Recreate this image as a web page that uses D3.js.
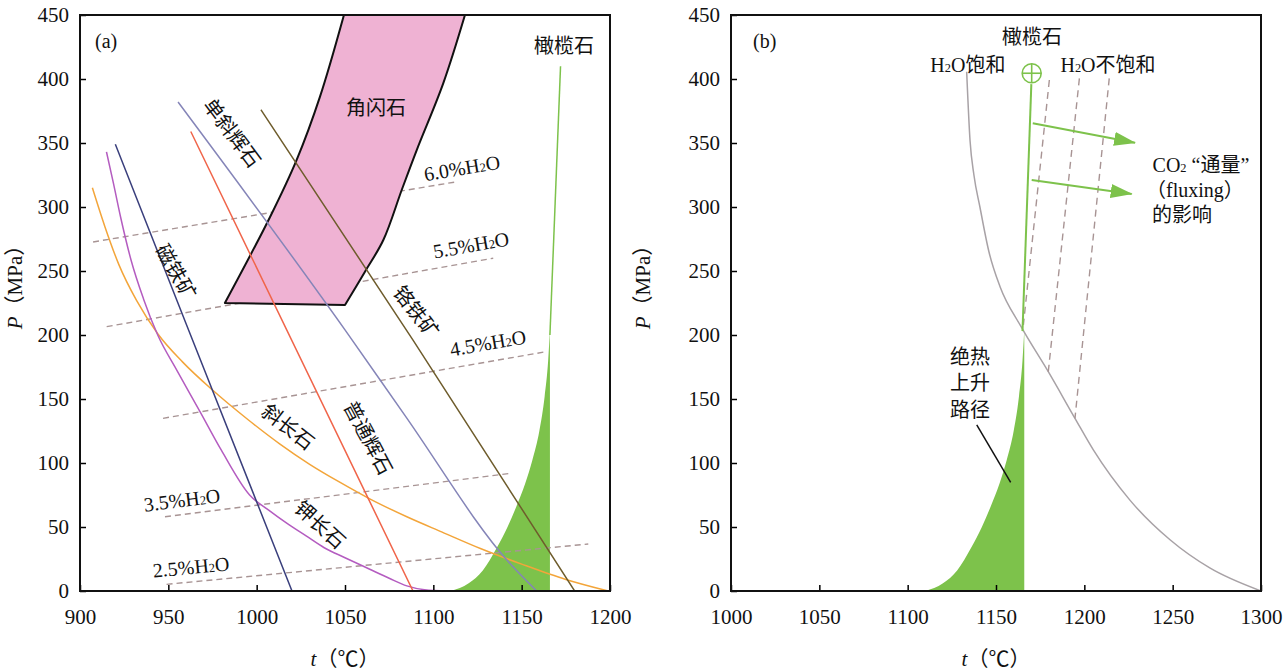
<!DOCTYPE html>
<html>
<head>
<meta charset="utf-8">
<script src="https://cdn.jsdelivr.net/npm/d3@7"></script>
<style>
  body { margin: 0; background: #fff; }
  text { font-family: 'Liberation Serif', 'Noto Sans CJK SC', serif; fill: #111; }
</style>
</head>
<body>
<script>
// tick labels
const pressureTicks = [0, 50, 100, 150, 200, 250, 300, 350, 400, 450];
const tempTicksA = [900, 950, 1000, 1050, 1100, 1150, 1200];
const tempTicksB = [1000, 1050, 1100, 1150, 1200, 1250, 1300];

// panel (a): mineral-in curves as [t (°C), P (MPa)]
const plagioclase = [[907, 315], [914, 285], [922, 255], [932, 227], [944, 201], [958, 179], [975, 157],
  [995, 134], [1013, 115], [1030, 99], [1047, 85], [1064, 72], [1085, 58], [1105, 46], [1127, 33],
  [1150, 21], [1175, 9], [1199, 0]];
const kFeldspar = [[915, 343], [919, 318], [923, 292], [929, 258], [936, 228], [944, 200], [955, 172],
  [968, 140], [980, 110], [996, 75], [1007, 63], [1017, 53], [1028, 43], [1038, 34], [1050, 26],
  [1064, 17], [1075, 10], [1085, 4], [1095, 1], [1108, 0]];
const magnetite = [[920, 349], [960, 209], [1020, 0]];
const augite = [[962.7, 359], [1063.6, 71], [1088.5, 0]];
const clinopyroxene = [[955.5, 382], [1050, 204], [1084, 137], [1143, 22], [1158.5, 0]];
const chromite = [[1002.4, 376], [1088.5, 196], [1180, 0]];
const hornblendeLeft = [[982, 225], [1007.5, 292], [1022.7, 337], [1035.8, 386], [1049.4, 450]];
const hornblendeRight = [[1050, 223.4], [1061.3, 249.5], [1071.7, 274.2], [1082.1, 313.3],
  [1090.6, 344.5], [1105.6, 396.6], [1117.9, 450]];
const olivineLineA = [[1166, 200], [1172, 410]];
// olivine adiabatic ascent field (left edge), shared by both panels
const olivineFill = [[1110, 0], [1120, 6], [1128, 16], [1136, 34], [1142, 50], [1147, 66], [1152, 84],
  [1156, 102], [1160, 125], [1163, 152], [1165, 180], [1166, 204]];

// water isopleths
const waterLevels = ['6.0', '5.5', '4.5', '3.5', '2.5'];
const waterLines = [
  [[907.4, 272.7], [1112.3, 319.5]],
  [[915.1, 206.5], [1133.9, 260]],
  [[947, 134.9], [1164, 187]],
  [[948.1, 58], [1144.3, 92]],
  [[949, 5.2], [1187.7, 36.7]]
];

// panel (b)
const h2oSaturated = [[1133.4, 405.7], [1135.3, 352], [1137.5, 325], [1140.9, 300], [1146, 265],
  [1152.3, 237.7], [1164.2, 206.5], [1179.6, 171.3], [1194.7, 134.9], [1205.1, 110.2], [1225.8, 71],
  [1248.5, 40], [1271, 18], [1300, 0]];
const h2oUndersaturated = [
  [[1180.2, 399.2], [1165.5, 207.8]],
  [[1197.2, 400.5], [1179.6, 171.3]],
  [[1214.1, 400.5], [1194.7, 134.9]]
];
const olivineLineB = [[1165, 203], [1170, 396]];
const olivineStart = [1170.2, 404.5];
const co2Arrows = [
  [[1170.8, 365.4], [1228.7, 350.2]],
  [[1170.2, 321.1], [1226.8, 310.2]]
];

const width = 1285;
const height = 672;
const svg = d3.select('body').append('svg').attr('width', width).attr('height', height);

const green = '#7dc24b';
const dashColor = '#a89494';

svg.append('defs')
  .append('marker')
  .attr('id', 'head')
  .attr('markerUnits', 'userSpaceOnUse')
  .attr('viewBox', '0 0 22 14')
  .attr('markerWidth', 22)
  .attr('markerHeight', 14)
  .attr('refX', 21)
  .attr('refY', 7)
  .attr('orient', 'auto')
  .append('path')
  .attr('d', 'M0,0L22,7L0,14Z')
  .attr('fill', green);

// writes a label, turning '₂' into a small subscript tspan
function richText(sel, str) {
  str.split('₂').forEach((part, i) => {
    if (i > 0) {
      sel.append('tspan').attr('font-size', '0.62em').attr('dy', 3).text('2');
      sel.append('tspan').attr('dy', -3).text(part);
    } else {
      sel.append('tspan').text(part);
    }
  });
  return sel;
}

function makePanel(id, x0, x1, tDomain) {
  const x = d3.scaleLinear().domain(tDomain).range([x0, x1]);
  const y = d3.scaleLinear().domain([0, 450]).range([591, 15]);
  const g = svg.append('g').attr('id', id);
  g.append('clipPath').attr('id', `clip-${id}`)
    .append('rect').attr('x', x0).attr('y', 15).attr('width', x1 - x0).attr('height', 576);
  const plot = g.append('g').attr('clip-path', `url(#clip-${id})`);
  const line = d3.line().x((d) => x(d[0])).y((d) => y(d[1]));
  const smooth = d3.line().x((d) => x(d[0])).y((d) => y(d[1])).curve(d3.curveMonotoneX);
  const area = d3.area().x((d) => x(d[0])).y0(y(0)).y1((d) => y(d[1])).curve(d3.curveMonotoneX);
  return { x, y, g, plot, line, smooth, area };
}

function drawAxes(p, tTicks, labelOffset) {
  const { x, y, g } = p;
  const styleAxis = (a) => {
    a.select('.domain').remove();
    a.selectAll('line').attr('stroke-width', 1.5);
    a.selectAll('text').attr('font-size', 21).attr('font-family', 'Liberation Serif').attr('fill', '#111');
  };
  g.append('g')
    .attr('transform', `translate(${x.range()[0]},0)`)
    .call(d3.axisLeft(y).tickValues(pressureTicks).tickFormat(d3.format('d'))
      .tickSizeInner(-6).tickSizeOuter(0).tickPadding(11))
    .call(styleAxis);
  g.append('g')
    .attr('transform', 'translate(0,591)')
    .call(d3.axisBottom(x).tickValues(tTicks).tickFormat(d3.format('d'))
      .tickSizeInner(-6).tickSizeOuter(0).tickPadding(18))
    .call(styleAxis);
  g.append('rect')
    .attr('x', x.range()[0]).attr('y', 15)
    .attr('width', x.range()[1] - x.range()[0]).attr('height', 576)
    .attr('fill', 'none').attr('stroke', '#111').attr('stroke-width', 2);

  const yl = g.append('text')
    .attr('transform', `translate(${x.range()[0] - labelOffset},282) rotate(-90)`)
    .attr('text-anchor', 'middle')
    .attr('font-size', 21);
  yl.append('tspan').attr('font-style', 'italic').text('P');
  yl.append('tspan').text('（MPa）');

  const xl = g.append('text')
    .attr('x', (x.range()[0] + x.range()[1]) / 2)
    .attr('y', 666)
    .attr('text-anchor', 'middle')
    .attr('font-size', 21);
  xl.append('tspan').attr('font-style', 'italic').text('t');
  xl.append('tspan').text('（℃）');
}

// ---------- panel (a) ----------
const a = makePanel('a', 80, 610, [900, 1200]);

a.plot.append('path')
  .attr('d', a.area(olivineFill))
  .attr('fill', green);

a.plot.selectAll('.water')
  .data(waterLines)
  .enter()
  .append('path')
  .attr('d', (d) => a.line(d))
  .attr('fill', 'none')
  .attr('stroke', dashColor)
  .attr('stroke-width', 1.4)
  .attr('stroke-dasharray', '6,4');

const edge = d3.line().x((d) => a.x(d[0])).y((d) => a.y(d[1])).curve(d3.curveCatmullRom);
a.plot.append('path')
  .attr('d', edge(hornblendeLeft) + edge(hornblendeRight.slice().reverse()).replace(/^M/, 'L') + 'Z')
  .attr('fill', '#efb2d3')
  .attr('stroke', '#111')
  .attr('stroke-width', 2)
  .attr('stroke-linejoin', 'round');

const minerals = [
  { data: plagioclase, color: '#f3a53a' },
  { data: kFeldspar, color: '#b45cc0' },
  { data: magnetite, color: '#3a3f7c' },
  { data: augite, color: '#f0654a' },
  { data: clinopyroxene, color: '#8585b8' },
  { data: chromite, color: '#6e5c2c' },
  { data: olivineLineA, color: green }
];
a.plot.selectAll('.mineral')
  .data(minerals)
  .enter()
  .append('path')
  .attr('d', (d) => a.smooth(d.data))
  .attr('fill', 'none')
  .attr('stroke', (d) => d.color)
  .attr('stroke-width', 1.5);

// water labels follow the slope of their isopleth
const waterLabelAt = [[1116.2, 330.5], [1121.3, 270.3], [1130.9, 193.8], [957.7, 71.1], [962.8, 18.8]];
waterLevels.forEach((lvl, i) => {
  const [p0, p1] = waterLines[i];
  const ang = Math.atan2(a.y(p1[1]) - a.y(p0[1]), a.x(p1[0]) - a.x(p0[0])) * 180 / Math.PI;
  const [t, P] = waterLabelAt[i];
  richText(a.g.append('text')
    .attr('transform', `translate(${a.x(t)},${a.y(P)}) rotate(${ang})`)
    .attr('text-anchor', 'middle')
    .attr('dominant-baseline', 'central')
    .attr('font-size', 20), `${lvl}%H₂O`);
});

const mineralLabels = [
  { text: '单斜辉石', at: [986, 357.8], rot: 53 },
  { text: '磁铁矿', at: [954.3, 249.2], rot: 60 },
  { text: '铬铁矿', at: [1090.2, 217.9], rot: 52 },
  { text: '斜长石', at: [1017.7, 128.1], rot: 38 },
  { text: '普通辉石', at: [1063, 119.5], rot: 62 },
  { text: '钾长石', at: [1035.8, 51.6], rot: 42 },
  { text: '角闪石', at: [1067.6, 377.3], rot: 0 },
  { text: '橄榄石', at: [1174, 425.8], rot: 0 }
];
a.g.selectAll('.mlabel')
  .data(mineralLabels)
  .enter()
  .append('text')
  .attr('transform', (d) => `translate(${a.x(d.at[0])},${a.y(d.at[1])}) rotate(${d.rot})`)
  .attr('text-anchor', 'middle')
  .attr('dominant-baseline', 'central')
  .attr('font-size', 20)
  .text((d) => d.text);

a.g.append('text').attr('x', 95).attr('y', 48).attr('font-size', 20).text('(a)');
drawAxes(a, tempTicksA, 58);

// ---------- panel (b) ----------
const b = makePanel('b', 731, 1261, [1000, 1300]);

b.plot.append('path')
  .attr('d', b.area(olivineFill))
  .attr('fill', green);

b.plot.append('path')
  .attr('d', b.smooth(h2oSaturated))
  .attr('fill', 'none')
  .attr('stroke', '#a8a2a6')
  .attr('stroke-width', 1.5);

b.plot.selectAll('.under')
  .data(h2oUndersaturated)
  .enter()
  .append('path')
  .attr('d', (d) => b.line(d))
  .attr('fill', 'none')
  .attr('stroke', dashColor)
  .attr('stroke-width', 1.4)
  .attr('stroke-dasharray', '7,5');

b.plot.append('path')
  .attr('d', b.line(olivineLineB))
  .attr('fill', 'none')
  .attr('stroke', green)
  .attr('stroke-width', 2);

const cx = b.x(olivineStart[0]);
const cy = b.y(olivineStart[1]);
const r = 9.5;
const start = b.g.append('g').attr('stroke', green).attr('stroke-width', 1.6).attr('fill', 'none');
start.append('circle').attr('cx', cx).attr('cy', cy).attr('r', r).attr('fill', '#fff');
start.append('line').attr('x1', cx - r).attr('x2', cx + r).attr('y1', cy).attr('y2', cy);
start.append('line').attr('x1', cx).attr('x2', cx).attr('y1', cy - r).attr('y2', cy + r);

b.g.selectAll('.arrow')
  .data(co2Arrows)
  .enter()
  .append('path')
  .attr('d', (d) => b.line(d))
  .attr('stroke', green)
  .attr('stroke-width', 2)
  .attr('marker-end', 'url(#head)');

const textsB = [
  { text: '橄榄石', at: [1170.4, 432.8] },
  { text: 'H₂O饱和', at: [1134.1, 410.9] },
  { text: 'H₂O不饱和', at: [1213.4, 410.9] },
  { text: 'CO₂ “通量”', at: [1266, 332.8] },
  { text: '（fluxing）', at: [1262.6, 313.3] },
  { text: '的影响', at: [1255.3, 293.8] },
  { text: '绝热', at: [1135.3, 182.8] },
  { text: '上升', at: [1135.3, 162.5] },
  { text: '路径', at: [1135.3, 141.4] }
];
textsB.forEach((d) => {
  richText(b.g.append('text')
    .attr('x', b.x(d.at[0]))
    .attr('y', b.y(d.at[1]))
    .attr('text-anchor', 'middle')
    .attr('dominant-baseline', 'central')
    .attr('font-size', 20), d.text);
});

b.g.append('path')
  .attr('d', b.line([[1139.1, 129.7], [1158.3, 84.9]]))
  .attr('stroke', '#111')
  .attr('stroke-width', 1.5);

b.g.append('text').attr('x', 753).attr('y', 48).attr('font-size', 20).text('(b)');
drawAxes(b, tempTicksB, 81);
</script>
</body>
</html>
